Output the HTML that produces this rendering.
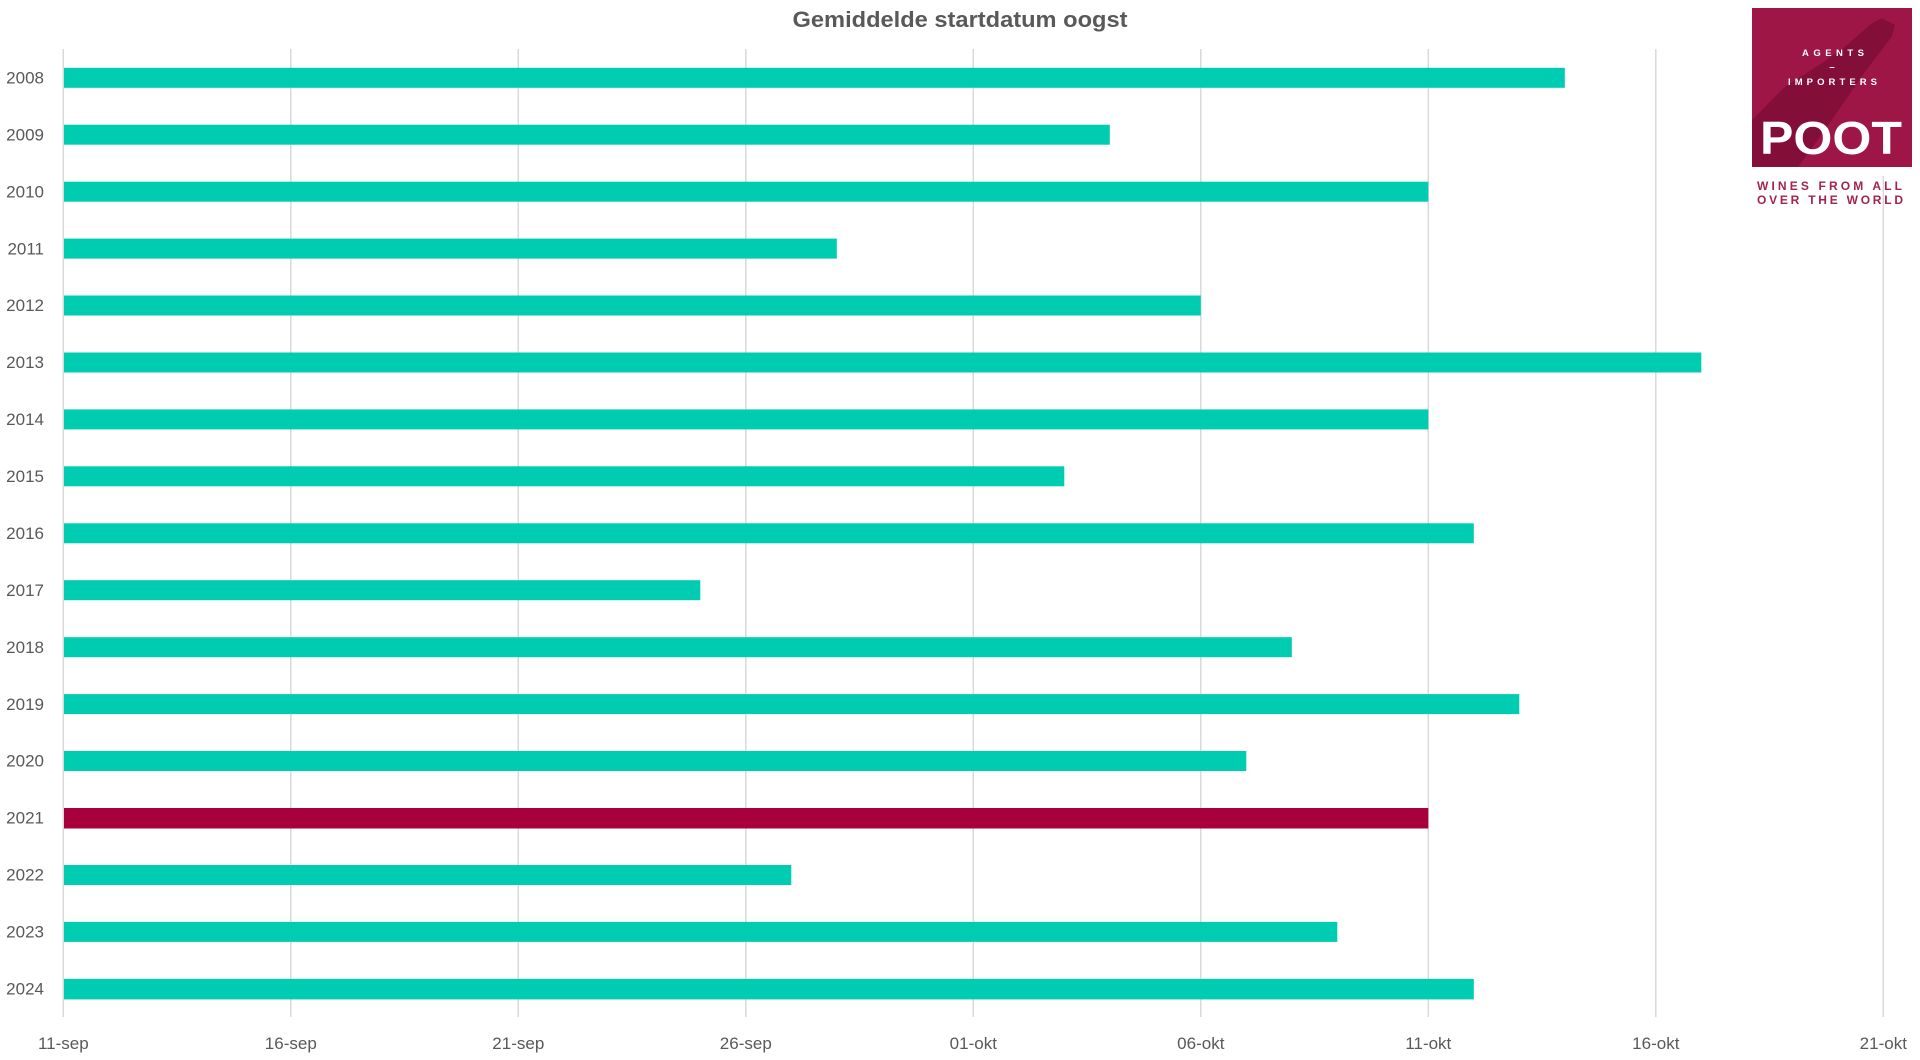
<!DOCTYPE html>
<html>
<head>
<meta charset="utf-8">
<style>
html,body{margin:0;padding:0;background:#fff;}
svg{display:block;}
text{font-family:"Liberation Sans",sans-serif;}
</style>
</head>
<body>
<svg width="1920" height="1060" viewBox="0 0 1920 1060" xmlns="http://www.w3.org/2000/svg">
<rect x="0" y="0" width="1920" height="1060" fill="#fff"/>
<!-- title -->
<text x="960" y="27" text-anchor="middle" font-size="22.5" font-weight="bold" fill="#595959" textLength="335" lengthAdjust="spacingAndGlyphs">Gemiddelde startdatum oogst</text>
<!-- gridlines -->
<g stroke="#d9d9d9" stroke-width="1.5">
<line x1="63.3" y1="49" x2="63.3" y2="1017"/>
<line x1="290.8" y1="49" x2="290.8" y2="1017"/>
<line x1="518.3" y1="49" x2="518.3" y2="1017"/>
<line x1="745.8" y1="49" x2="745.8" y2="1017"/>
<line x1="973.3" y1="49" x2="973.3" y2="1017"/>
<line x1="1200.8" y1="49" x2="1200.8" y2="1017"/>
<line x1="1428.3" y1="49" x2="1428.3" y2="1017"/>
<line x1="1655.8" y1="49" x2="1655.8" y2="1017"/>
<line x1="1883.3" y1="49" x2="1883.3" y2="1017"/>
</g>
<!-- bars -->
<g fill="#00CCB1">
<rect x="64" y="67.8" width="1500.8" height="20"/>
<rect x="64" y="124.7" width="1045.8" height="20"/>
<rect x="64" y="181.7" width="1364.3" height="20"/>
<rect x="64" y="238.6" width="772.8" height="20"/>
<rect x="64" y="295.5" width="1136.8" height="20"/>
<rect x="64" y="352.5" width="1637.3" height="20"/>
<rect x="64" y="409.4" width="1364.3" height="20"/>
<rect x="64" y="466.3" width="1000.3" height="20"/>
<rect x="64" y="523.3" width="1409.8" height="20"/>
<rect x="64" y="580.2" width="636.3" height="20"/>
<rect x="64" y="637.2" width="1227.8" height="20"/>
<rect x="64" y="694.1" width="1455.3" height="20"/>
<rect x="64" y="751" width="1182.3" height="20"/>
<rect x="64" y="865" width="727.3" height="20"/>
<rect x="64" y="921.9" width="1273.3" height="20"/>
<rect x="64" y="978.9" width="1409.8" height="20.5"/>
</g>
<rect x="64" y="808" width="1364.3" height="20.5" fill="#A8003B"/>
<!-- y labels -->
<g font-size="17" fill="#595959" text-anchor="end">
<text x="44" y="83.5">2008</text>
<text x="44" y="140.4">2009</text>
<text x="44" y="197.4">2010</text>
<text x="44" y="254.3">2011</text>
<text x="44" y="311.2">2012</text>
<text x="44" y="368.2">2013</text>
<text x="44" y="425.1">2014</text>
<text x="44" y="482">2015</text>
<text x="44" y="539">2016</text>
<text x="44" y="595.9">2017</text>
<text x="44" y="652.9">2018</text>
<text x="44" y="709.8">2019</text>
<text x="44" y="766.7">2020</text>
<text x="44" y="823.7">2021</text>
<text x="44" y="880.6">2022</text>
<text x="44" y="937.5">2023</text>
<text x="44" y="994.5">2024</text>
</g>
<!-- x labels -->
<g font-size="17" fill="#595959" text-anchor="middle">
<text x="63.3" y="1049">11-sep</text>
<text x="290.8" y="1049">16-sep</text>
<text x="518.3" y="1049">21-sep</text>
<text x="745.8" y="1049">26-sep</text>
<text x="973.3" y="1049">01-okt</text>
<text x="1200.8" y="1049">06-okt</text>
<text x="1428.3" y="1049">11-okt</text>
<text x="1655.8" y="1049">16-okt</text>
<text x="1883.3" y="1049">21-okt</text>
</g>
<!-- logo -->
<rect x="1740" y="0" width="180" height="176" fill="#fff"/>
<rect x="1752" y="8" width="160" height="159" fill="#9E1646"/>
<path d="M1881.7 18.3 L1895 25 L1891.7 36.7 L1865 71.7 L1831.7 120 L1798.3 166.7 L1752 166.7 L1752 120 L1785 86.7 L1821.7 63.3 L1845 46.7 L1871.7 23.3 Z" fill="#7C0C35" opacity="0.8"/>
<g fill="#fff" text-anchor="middle" font-weight="bold">
<text x="1833" y="56" font-size="9.5" textLength="62" lengthAdjust="spacing">AGENTS</text>
<text x="1832" y="70" font-size="9.5">–</text>
<text x="1832.5" y="85" font-size="9.5" textLength="89" lengthAdjust="spacing">IMPORTERS</text>
<text x="1831" y="154" font-size="46" textLength="142" lengthAdjust="spacingAndGlyphs">POOT</text>
</g>
<g fill="#A3234F" text-anchor="middle" font-size="12" font-weight="bold">
<text x="1829.5" y="190" textLength="145" lengthAdjust="spacing">WINES FROM ALL</text>
<text x="1830" y="204" textLength="146" lengthAdjust="spacing">OVER THE WORLD</text>
</g>
</svg>
</body>
</html>
